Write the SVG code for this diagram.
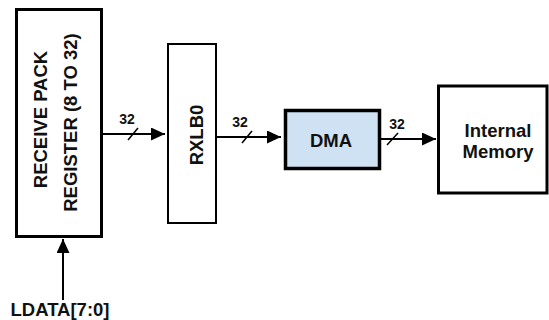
<svg xmlns="http://www.w3.org/2000/svg" width="549" height="320" viewBox="0 0 549 320">
<defs>
<style>
.box{fill:#fff;stroke:#000;}
.t{font-family:"Liberation Sans",Arial,Helvetica,sans-serif;font-weight:bold;font-size:18.5px;fill:#111;text-anchor:middle;}
.s{font-family:"Liberation Sans",Arial,Helvetica,sans-serif;font-weight:bold;font-size:14px;fill:#111;text-anchor:middle;}
.w{stroke:#000;stroke-width:2;fill:none;}
.sl{stroke:#000;stroke-width:1.5;fill:none;}
</style>
<marker id="ah" markerUnits="userSpaceOnUse" markerWidth="16" markerHeight="14" refX="14" refY="6.5" orient="auto">
<path d="M0,0 L14,6.5 L0,13 Z" fill="#000"/>
</marker>
</defs>
<g id="connectors">
<line class="w" x1="102" y1="134" x2="165" y2="134" marker-end="url(#ah)"/>
<line class="sl" x1="128" y1="140" x2="138" y2="128"/>
<text class="s" x="127" y="124">32</text>
<line class="w" x1="216" y1="137" x2="281" y2="137" marker-end="url(#ah)"/>
<line class="sl" x1="242" y1="143" x2="252" y2="131"/>
<text class="s" x="240" y="127">32</text>
<line class="w" x1="381" y1="139" x2="436" y2="139" marker-end="url(#ah)"/>
<line class="sl" x1="387" y1="145" x2="398" y2="133"/>
<text class="s" x="397" y="129">32</text>
<line class="w" x1="63" y1="300" x2="63" y2="239" marker-end="url(#ah)"/>
</g>
<g id="recv">
<rect class="box" x="16.5" y="9.5" width="85" height="227" stroke-width="3"/>
<text class="t" transform="translate(47,119.5) rotate(-90)">RECEIVE PACK</text>
<text class="t" transform="translate(77,122.5) rotate(-90)">REGISTER (8 TO 32)</text>
</g>
<g id="rxlb0">
<rect class="box" x="168" y="44" width="48" height="179" stroke-width="2"/>
<text class="t" transform="translate(203,135) rotate(-90)">RXLB0</text>
</g>
<g id="dma">
<rect x="285.5" y="110.5" width="94" height="58" fill="#cfe2f3" stroke="#000" stroke-width="3.5"/>
<text class="t" x="331" y="147">DMA</text>
</g>
<g id="mem">
<rect class="box" x="438.5" y="86" width="108.5" height="107" stroke-width="3"/>
<text class="t" x="498" y="137" font-size="17.5">Internal</text>
<text class="t" x="498" y="158" font-size="17.5">Memory</text>
</g>
<g id="ldata">
<text class="t" x="60" y="316">LDATA[7:0]</text>
</g>
</svg>
